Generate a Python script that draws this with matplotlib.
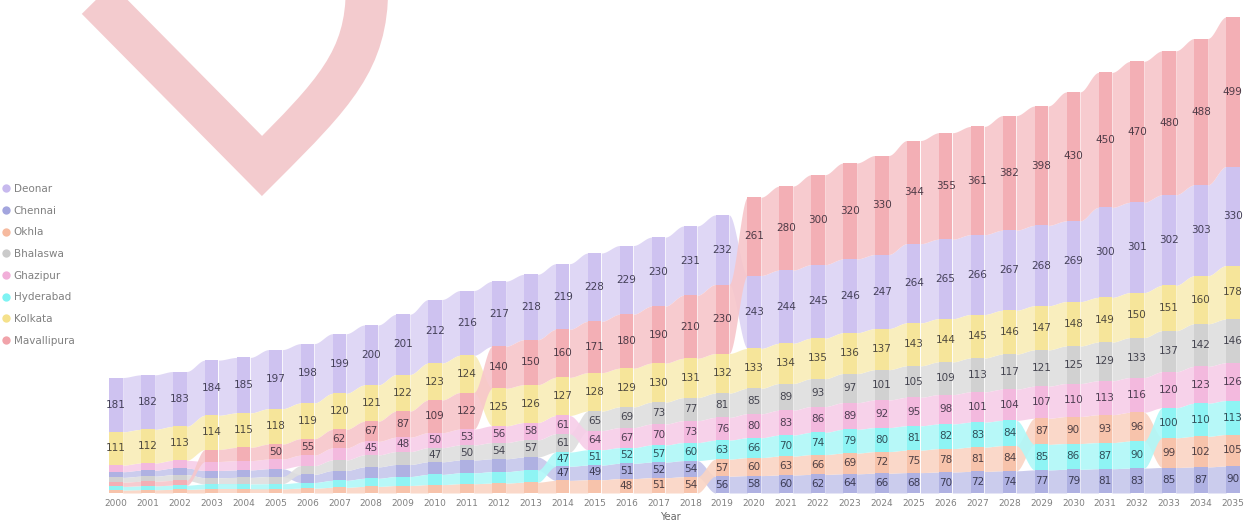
import numpy as np
import matplotlib
matplotlib.use("Agg")
import matplotlib.pyplot as plt
from matplotlib.colors import to_rgb
from matplotlib.lines import Line2D
from matplotlib.path import Path
from matplotlib.patches import PathPatch

years = np.arange(2000, 2036)

series = ["Deonar", "Chennai", "Okhla", "Bhalaswa", "Ghazipur", "Hyderabad", "Kolkata", "Mavallipura"]
colors = ["#B9A8EA", "#8C8FD6", "#F4A987", "#BDBDBD", "#EE9BD0", "#5EF0F0", "#F2DA6E", "#EE8C95"]

deonar = [181, 182, 183, 184, 185, 197, 198, 199, 200, 201, 212, 216, 217, 218, 219, 228, 229, 230,
          231, 232, 243, 244, 245, 246, 247, 264, 265, 266, 267, 268, 269, 300, 301, 302, 303, 330]
chennai = [19, 20, 22, 24, 25, 26, 27, 33, 38, 40, 42, 43, 43, 44, 47, 49, 51, 52,
           54, 56, 58, 60, 62, 64, 66, 68, 70, 72, 74, 77, 79, 81, 83, 85, 87, 90]
okhla = [10, 11, 12, 14, 14, 14, 16, 19, 22, 25, 28, 31, 33, 36, 42, 44, 48, 51,
         54, 57, 60, 63, 66, 69, 72, 75, 78, 81, 84, 87, 90, 93, 96, 99, 102, 105]
bhalaswa = [16, 17, 19, 21, 22, 24, 29, 35, 40, 43, 47, 50, 54, 57, 61, 65, 69, 73,
            77, 81, 85, 89, 93, 97, 101, 105, 109, 113, 117, 121, 125, 129, 133, 137, 142, 146]
ghazipur = [22, 24, 26, 30, 31, 32, 35, 40, 45, 48, 50, 53, 56, 58, 61, 64, 67, 70,
            73, 76, 80, 83, 86, 89, 92, 95, 98, 101, 104, 107, 110, 113, 116, 120, 123, 126]
hyderabad = [12, 13, 14, 16, 16, 17, 19, 23, 27, 30, 34, 36, 38, 40, 47.4, 51, 52, 57,
             60, 63, 66, 70, 74, 79, 80, 81, 82, 83, 84, 85, 86, 87, 90, 100, 110, 113]
kolkata = [111, 112, 113, 114, 115, 118, 119, 120, 121, 122, 123, 124, 125, 126, 127, 128, 129, 130,
           131, 132, 133, 134, 135, 136, 137, 143, 144, 145, 146, 147, 148, 149, 150, 151, 160, 178]
mavallipura = [14, 15, 16, 40, 44, 50, 55, 62, 67, 87, 109, 122, 140, 150, 160, 171, 180, 190,
               210, 230, 261, 280, 300, 320, 330, 344, 355, 361, 382, 398, 430, 450, 470, 480, 488, 499]


def mix(c, other, amount):
	c = np.array(to_rgb(c))
	return tuple(c * (1 - amount) + np.array(other) * amount)


def stackPositions(values):
	# ribbon chart: each year sorted by value, largest on top, ties keep last year's rank
	n, m = values.shape
	bottoms = np.zeros_like(values)
	prevRank = np.arange(n)
	for j in range(m):
		keys = sorted(range(n), key=lambda i: (values[i, j], prevRank[i]))
		level = 0.0
		for r, i in enumerate(keys):
			bottoms[i, j] = level
			level += values[i, j]
			prevRank[i] = r
	return bottoms


def plotRibbons(ax, values, bottoms, width=0.42):
	t = np.linspace(0, 1, 30)
	s = 3 * t ** 2 - 2 * t ** 3
	for k, name in enumerate(series):
		ribbonColor = mix(colors[k], (1, 1, 1), 0.5)
		for j in range(len(years) - 1):
			x0 = years[j] + width / 2
			x1 = years[j + 1] - width / 2
			xs = x0 + (x1 - x0) * t
			b0, b1 = bottoms[k, j], bottoms[k, j + 1]
			t0, t1 = b0 + values[k, j], b1 + values[k, j + 1]
			ax.fill_between(xs, b0 + (b1 - b0) * s, t0 + (t1 - t0) * s,
			                color=ribbonColor, alpha=0.9, linewidth=0, zorder=1)
	for k, name in enumerate(series):
		barColor = mix(colors[k], (1, 1, 1), 0.3)
		ax.bar(years, values[k], bottom=bottoms[k], width=width, color=barColor,
		       linewidth=0, zorder=2)
		labelColor = mix(colors[k], (0.15, 0.15, 0.2), 0.8)
		for j, yr in enumerate(years):
			v = values[k, j]
			if v >= 45:
				ax.text(yr, bottoms[k, j] + v / 2, "{:.0f}".format(v), ha="center", va="center",
				        fontsize=7.5, color=labelColor, zorder=3)


def drawMark(fig):
	# decorative pink stroke in the top left corner
	W, H = 1250.0, 524.0
	pts = [(84, -14), (262, 166), (335, 93), (367, 60), (367, -12)]
	verts = [(x / W, 1 - y / H) for x, y in pts]
	codes = [Path.MOVETO, Path.LINETO, Path.CURVE4, Path.CURVE4, Path.CURVE4]
	patch = PathPatch(Path(verts, codes), facecolor="none", edgecolor="#F3CBCE",
	                  linewidth=30.5, joinstyle="miter", capstyle="butt",
	                  transform=fig.transFigure, zorder=0)
	fig.patches.append(patch)


if __name__ == "__main__":
	values = np.array([deonar, chennai, okhla, bhalaswa, ghazipur, hyderabad, kolkata, mavallipura], dtype=float)
	bottoms = stackPositions(values)

	fig = plt.figure(figsize=(12.5, 5.24), dpi=100)
	drawMark(fig)
	ax = fig.add_axes([0, 31 / 524, 1, 493 / 524])
	ax.patch.set_alpha(0)
	plotRibbons(ax, values, bottoms)

	step = 31.91
	ax.set_xlim(2000 - 116 / step, 2000 + (1250 - 116) / step)
	ax.set_ylim(0, 493 / 0.30)
	ax.set_xticks(years)
	ax.set_xticklabels([str(y) for y in years], fontsize=6.5, color="#808080")
	ax.tick_params(axis="x", length=0, pad=4)
	ax.set_yticks([])
	for sp in ax.spines.values():
		sp.set_visible(False)
	fig.text(670 / 1250, 1 - 517 / 524, "Year", ha="center", va="center", fontsize=7, color="#666666")

	handles = [Line2D([], [], marker="o", linestyle="none", markersize=6,
	                  markerfacecolor=mix(c, (1, 1, 1), 0.2), markeredgecolor="none") for c in colors]
	fig.legend(handles, series, loc="upper left", bbox_to_anchor=(0.0, 1 - 182 / 524),
	           frameon=False, fontsize=7.5, labelcolor="#808080", handlelength=0.8,
	           handletextpad=0.3, labelspacing=1.12, borderpad=0, borderaxespad=0.2)

	fig.savefig("out.png", dpi=100)
